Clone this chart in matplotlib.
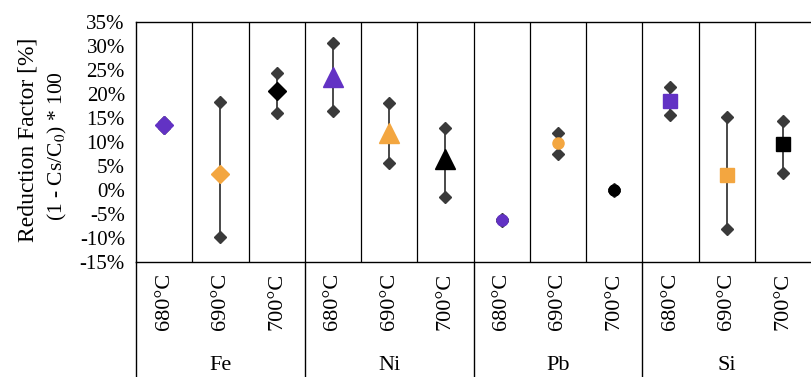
import numpy as np
import matplotlib
matplotlib.use("Agg")
import matplotlib.pyplot as plt
from matplotlib.transforms import blended_transform_factory

plt.rcParams["font.family"] = ["Liberation Serif", "DejaVu Serif"]
plt.rcParams["mathtext.fontset"] = "stix"

elements = ["Fe", "Ni", "Pb", "Si"]
temps = ["680°C", "690°C", "700°C"]

# reduction factor [%] with lower / upper error limits, element by temperature
rf_mean = [13.5, 3.3, 20.7,
           23.5, 11.9, 6.4,
           -6.2, 9.7, 0.0,
           18.6, 3.2, 9.6]
rf_low = [12.9, -9.8, 16.0,
          16.5, 5.6, -1.5,
          -6.4, 7.5, -0.2,
          15.6, -8.1, 3.5]
rf_high = [14.2, 18.3, 24.4,
           30.6, 18.1, 12.9,
           -6.0, 11.9, 0.2,
           21.4, 15.2, 14.4]

markers = {"Fe": "D", "Ni": "^", "Pb": "o", "Si": "s"}
msizes = {"Fe": 9, "Ni": 15, "Pb": 8, "Si": 10}
colors = ["#6232C4", "#F3A640", "#000000"]
cap_color = "#3a3a3a"

fig = plt.figure(figsize=(8.11, 3.77), dpi=100)
ax = fig.add_axes([136 / 811, 1 - 262 / 377, 1 - 136 / 811, 240 / 377])

x = np.arange(len(rf_mean))
for i, (m, lo, hi) in enumerate(zip(rf_mean, rf_low, rf_high)):
    el = elements[i // 3]
    c = colors[i % 3]
    ax.plot([i, i], [lo, hi], color=cap_color, lw=1.3, zorder=2)
    ax.plot([i, i], [lo, hi], ls="none", marker="D", ms=6,
            color=cap_color, zorder=3)
    ax.plot(i, m, ls="none", marker=markers[el], ms=msizes[el],
            color=c, mec=c, zorder=4)

ax.set_xlim(-0.5, 11.5)
ax.set_ylim(-15, 35)
ax.set_yticks(np.arange(-15, 36, 5))
ax.set_yticklabels([f"{v}%" for v in range(-15, 36, 5)])
ax.tick_params(axis="y", length=0, labelsize=15, pad=8)
ax.set_xticks([])
ax.set_xticks(np.arange(0.5, 11, 1), minor=True)
ax.tick_params(axis="x", which="minor", length=0)
ax.grid(True, axis="x", which="minor", color="black", lw=0.9)
for s in ax.spines.values():
    s.set_color("black")
    s.set_linewidth(1.0)
ax.spines["right"].set_visible(False)

# two-line y axis title
fig.text(28 / 811, 1 - 140 / 377, "Reduction Factor [%]", rotation=90,
         ha="center", va="center", fontsize=17)
fig.text(57 / 811, 1 - 146 / 377, "(1 - Cs/C$_0$) * 100", rotation=90,
         ha="center", va="center", fontsize=15.5)

# category table beneath the axes
tr = blended_transform_factory(ax.transData, ax.transAxes)
for i in x:
    ax.text(i, -0.165, temps[i % 3], transform=tr, rotation=90,
            ha="center", va="center", fontsize=16)
for g, el in enumerate(elements):
    ax.text(3 * g + 1, -0.43, el, transform=tr, ha="center", va="center",
            fontsize=16)
for xb in [-0.5, 2.5, 5.5, 8.5]:
    ax.plot([xb, xb], [0, -0.5], transform=tr, color="black", lw=1.0,
            clip_on=False)

fig.savefig("out.png", dpi=100)
